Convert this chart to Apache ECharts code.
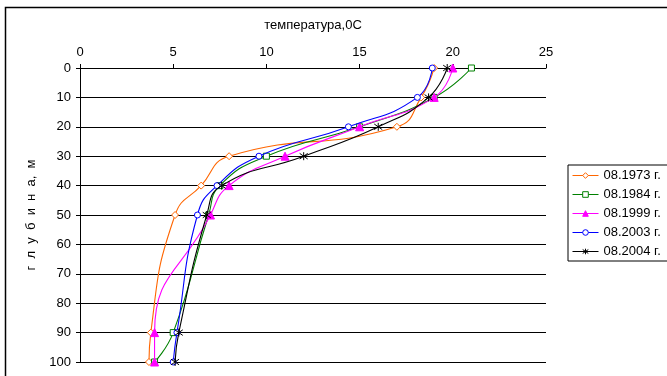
<!DOCTYPE html>
<html>
<head>
<meta charset="utf-8">
<script src="https://cdn.jsdelivr.net/npm/echarts@6/dist/echarts.min.js"></script>
<style>
  html, body { margin: 0; padding: 0; background: #fff; }
  #chart { width: 667px; height: 376px; }
</style>
</head>
<body>
<div id="chart"></div>
<script>
// Measurement depths, m
const depths = [0, 10, 20, 30, 40, 50, 90, 100];

// Water temperature profiles, °C, one per survey
const seriesNames = ['08.1973 г.', '08.1984 г.', '08.1999 г.', '08.2003 г.', '08.2004 г.'];
const t1973 = [19.0, 18.3, 17.0, 8.0, 6.5, 5.1, 3.8, 3.7];
const t1984 = [21.0, 19.0, 15.0, 10.0, 7.5, 6.9, 5.0, 4.0];
const t1999 = [20.0, 19.0, 15.0, 11.0, 8.0, 7.0, 4.0, 4.0];
const t2003 = [18.9, 18.1, 14.4, 9.6, 7.35, 6.3, 5.2, 5.0];
const t2004 = [19.7, 18.7, 16.0, 12.0, 7.6, 6.8, 5.3, 5.1];

const tempTicks = [0, 5, 10, 15, 20, 25];
const depthTicks = [0, 10, 20, 30, 40, 50, 60, 70, 80, 90, 100];

const FONT = 'Liberation Sans, Arial, sans-serif';
const ASTERISK = 'path://M5 0 L5 10 M0.7 1.5 L9.3 8.5 M0.7 8.5 L9.3 1.5';

function pairs(temps) {
  return temps.map((t, i) => [t, depths[i]]);
}

// hollow markers: white fill with a thin coloured outline
const styles = [
  { color: '#FF6600', symbol: 'diamond', size: 7, fill: '#fff' },
  { color: '#008000', symbol: 'rect', size: 6, fill: '#fff' },
  { color: '#FF00FF', symbol: 'triangle', size: 8, fill: '#FF00FF' },
  { color: '#0000FF', symbol: 'circle', size: 6, fill: '#fff' },
  { color: '#000000', symbol: ASTERISK, size: 8, fill: 'none' }
];
const profiles = [t1973, t1984, t1999, t2003, t2004];

const chart = echarts.init(document.getElementById('chart'), null, { renderer: 'canvas' });

chart.setOption({
  animation: false,
  backgroundColor: '#fff',
  textStyle: { fontFamily: FONT, color: '#000' },
  graphic: [{
    type: 'rect',
    shape: { x: 5.5, y: 7.5, width: 700, height: 420 },
    style: { fill: 'none', stroke: '#000', lineWidth: 1.5 },
    silent: true,
    z: -10
  }],
  grid: { left: 80, right: 121, top: 68, bottom: 14, containLabel: false },
  legend: {
    orient: 'vertical',
    left: 568,
    top: 165,
    padding: [4, 40, 3, 4],
    itemWidth: 26,
    itemHeight: 7,
    itemGap: 6,
    itemStyle: { borderWidth: 1 },
    lineStyle: { width: 1 },
    backgroundColor: '#fff',
    borderColor: '#000',
    borderWidth: 1,
    textStyle: { fontFamily: FONT, fontSize: 13, color: '#000' },
    data: seriesNames
  },
  xAxis: {
    type: 'value',
    position: 'top',
    min: tempTicks[0],
    max: tempTicks[tempTicks.length - 1],
    interval: 5,
    name: 'температура,0С',
    nameLocation: 'middle',
    nameGap: 36,
    nameTextStyle: { fontFamily: FONT, fontSize: 13, color: '#000' },
    axisLine: { show: true, lineStyle: { color: '#000', width: 1 } },
    axisTick: { show: true, inside: false, length: 4, lineStyle: { color: '#000' } },
    axisLabel: { fontFamily: FONT, fontSize: 13, color: '#000', margin: 9 },
    splitLine: { show: false }
  },
  yAxis: {
    type: 'value',
    inverse: true,
    min: depthTicks[0],
    max: depthTicks[depthTicks.length - 1],
    interval: 10,
    name: 'г  л  у  б  и  н  а,  м',
    nameLocation: 'middle',
    nameRotate: 90,
    nameGap: 37,
    nameTextStyle: { fontFamily: FONT, fontSize: 13, color: '#000' },
    axisLine: { show: true, lineStyle: { color: '#000', width: 1 } },
    axisTick: { show: true, inside: false, length: 4, lineStyle: { color: '#000' } },
    axisLabel: { fontFamily: FONT, fontSize: 13, color: '#000', margin: 9 },
    splitLine: { show: true, lineStyle: { color: '#000', width: 1 } }
  },
  series: profiles.map((temps, i) => ({
    name: seriesNames[i],
    type: 'line',
    data: pairs(temps),
    smooth: 0.5,
    symbol: styles[i].symbol,
    symbolSize: styles[i].size,
    showAllSymbol: true,
    lineStyle: { color: styles[i].color, width: 1.1 },
    itemStyle: {
      color: styles[i].fill,
      borderColor: styles[i].color,
      borderWidth: 1
    },
    z: 2 + i
  }))
});
</script>
</body>
</html>
